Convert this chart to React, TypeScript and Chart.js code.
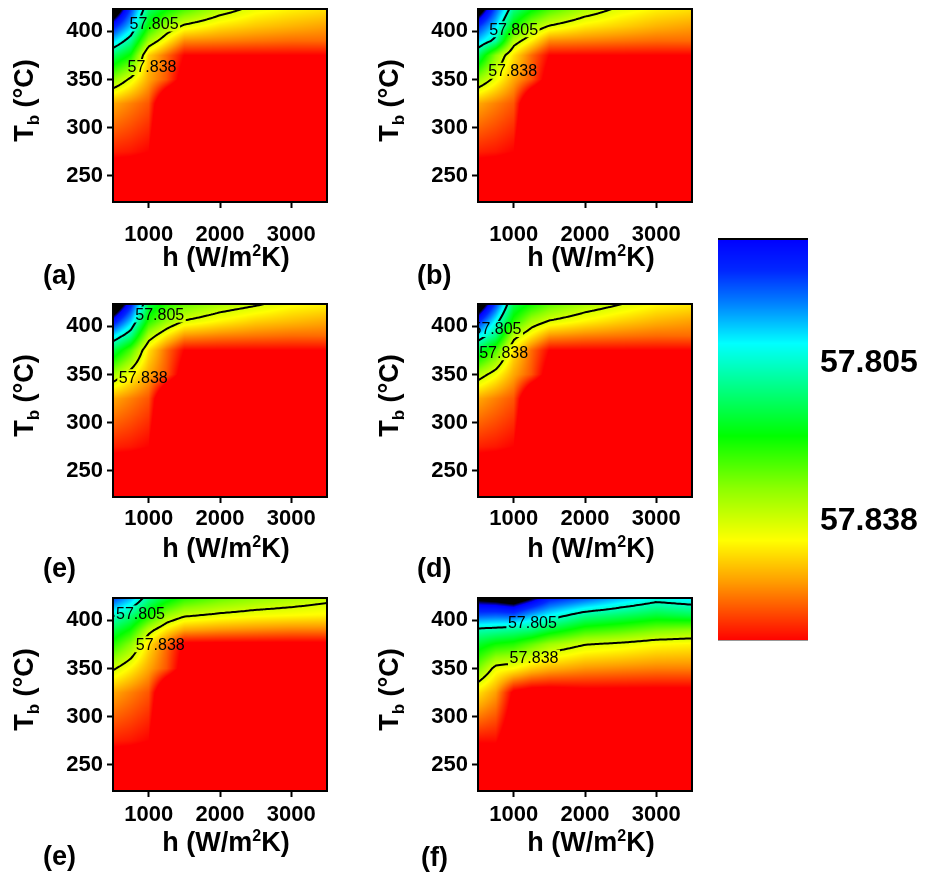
import React, { useEffect, useRef } from "react";
import { Chart, registerables } from "chart.js";

Chart.register(...registerables);

const FONT = '"Liberation Sans", Arial, Helvetica, sans-serif';

// grid nodes of the computed field
const H_NODES = [500, 750, 1000, 1250, 1500, 2000, 2500, 3000, 3500];
const T_NODES = [223, 275, 325, 350, 375, 390, 405, 423];
const H_RANGE = [500, 3500];
const T_RANGE = [223, 423];
const X_TICKS = [1000, 2000, 3000];
const Y_TICKS = [250, 300, 350, 400];
const CONTOUR_LEVELS = [57.805, 57.838];
const COLOR_RANGE = [57.779, 57.863];

// rows: T_NODES ascending (223 ... 423), columns: H_NODES
const FIELD_A = [
  [57.8798, 57.8798, 57.8798, 57.8798, 57.8798, 57.8798, 57.8798, 57.8798, 57.8798],
  [57.8605, 57.8613, 57.863, 57.8798, 57.8798, 57.8798, 57.8798, 57.8798, 57.8798],
  [57.8496, 57.8529, 57.8563, 57.8756, 57.8798, 57.8798, 57.8798, 57.8798, 57.8798],
  [57.8311, 57.8395, 57.8496, 57.8563, 57.8672, 57.8756, 57.8756, 57.8756, 57.8756],
  [57.8126, 57.821, 57.8462, 57.8546, 57.863, 57.863, 57.863, 57.863, 57.863],
  [57.7975, 57.8092, 57.8328, 57.8428, 57.8521, 57.8529, 57.8538, 57.8546, 57.8546],
  [57.7832, 57.7975, 57.821, 57.8328, 57.8395, 57.8445, 57.847, 57.8487, 57.8504],
  [57.7622, 57.7874, 57.8118, 57.8193, 57.8252, 57.8344, 57.8403, 57.8428, 57.8445],
];
const FIELD_B = [
  [57.8798, 57.8798, 57.8798, 57.8798, 57.8798, 57.8798, 57.8798, 57.8798, 57.8798],
  [57.8605, 57.8613, 57.863, 57.8798, 57.8798, 57.8798, 57.8798, 57.8798, 57.8798],
  [57.8496, 57.8529, 57.8563, 57.8756, 57.8798, 57.8798, 57.8798, 57.8798, 57.8798],
  [57.8319, 57.8403, 57.8496, 57.8563, 57.8672, 57.8756, 57.8756, 57.8756, 57.8756],
  [57.8126, 57.8311, 57.8445, 57.8546, 57.863, 57.863, 57.863, 57.863, 57.863],
  [57.7975, 57.8076, 57.8344, 57.8428, 57.8521, 57.8529, 57.8538, 57.8546, 57.8546],
  [57.7857, 57.7992, 57.821, 57.8328, 57.8386, 57.8437, 57.8462, 57.8487, 57.8504],
  [57.7664, 57.7891, 57.8101, 57.8185, 57.8252, 57.8336, 57.8395, 57.8428, 57.8445],
];
const FIELD_C = [
  [57.8798, 57.8798, 57.8798, 57.8798, 57.8798, 57.8798, 57.8798, 57.8798, 57.8798],
  [57.8605, 57.8613, 57.863, 57.8798, 57.8798, 57.8798, 57.8798, 57.8798, 57.8798],
  [57.8496, 57.8529, 57.8563, 57.8756, 57.8798, 57.8798, 57.8798, 57.8798, 57.8798],
  [57.8328, 57.8412, 57.8496, 57.8563, 57.8672, 57.8756, 57.8756, 57.8756, 57.8756],
  [57.8143, 57.826, 57.8445, 57.8546, 57.863, 57.863, 57.863, 57.863, 57.863],
  [57.7992, 57.8101, 57.8344, 57.8437, 57.8512, 57.8529, 57.8538, 57.8546, 57.8546],
  [57.7815, 57.7975, 57.8227, 57.8319, 57.8386, 57.8428, 57.8462, 57.8479, 57.8496],
  [57.7605, 57.7832, 57.8143, 57.8227, 57.8277, 57.8336, 57.837, 57.8412, 57.8428],
];
const FIELD_D = [
  [57.8798, 57.8798, 57.8798, 57.8798, 57.8798, 57.8798, 57.8798, 57.8798, 57.8798],
  [57.8605, 57.8613, 57.863, 57.8798, 57.8798, 57.8798, 57.8798, 57.8798, 57.8798],
  [57.8496, 57.8529, 57.8563, 57.8756, 57.8798, 57.8798, 57.8798, 57.8798, 57.8798],
  [57.8344, 57.8412, 57.8496, 57.8563, 57.8672, 57.8756, 57.8756, 57.8756, 57.8756],
  [57.8143, 57.826, 57.8445, 57.8546, 57.863, 57.863, 57.863, 57.863, 57.863],
  [57.8, 57.8109, 57.8353, 57.8437, 57.8512, 57.8529, 57.8538, 57.8546, 57.8546],
  [57.784, 57.8017, 57.8227, 57.8336, 57.8386, 57.8428, 57.8462, 57.8487, 57.8504],
  [57.7639, 57.7874, 57.8143, 57.821, 57.8269, 57.8336, 57.8378, 57.842, 57.8437],
];
const FIELD_E = [
  [57.8798, 57.8798, 57.8798, 57.8798, 57.8798, 57.8798, 57.8798, 57.8798, 57.8798],
  [57.8605, 57.8613, 57.863, 57.8798, 57.8798, 57.8798, 57.8798, 57.8798, 57.8798],
  [57.8496, 57.8529, 57.8563, 57.8756, 57.8798, 57.8798, 57.8798, 57.8798, 57.8798],
  [57.837, 57.8428, 57.8496, 57.8563, 57.8672, 57.8756, 57.8756, 57.8756, 57.8756],
  [57.8227, 57.8311, 57.8445, 57.8546, 57.8647, 57.8647, 57.8647, 57.8647, 57.8647],
  [57.8143, 57.821, 57.8353, 57.8437, 57.8496, 57.8512, 57.8521, 57.8529, 57.8529],
  [57.8042, 57.8109, 57.821, 57.8319, 57.837, 57.8395, 57.8412, 57.842, 57.8428],
  [57.7874, 57.7958, 57.8092, 57.8168, 57.8227, 57.8277, 57.8311, 57.8336, 57.8361],
];
const FIELD_F = [
  [57.8798, 57.8798, 57.8798, 57.8798, 57.8798, 57.8798, 57.8798, 57.8798, 57.8798],
  [57.8622, 57.8622, 57.8714, 57.8756, 57.8756, 57.8756, 57.8756, 57.8756, 57.8756],
  [57.8445, 57.8504, 57.8647, 57.8672, 57.8672, 57.8655, 57.8655, 57.8655, 57.8655],
  [57.8294, 57.8403, 57.842, 57.8462, 57.8487, 57.8512, 57.8521, 57.8529, 57.8529],
  [57.8168, 57.821, 57.8227, 57.8277, 57.8328, 57.8378, 57.8395, 57.842, 57.8428],
  [57.8067, 57.8076, 57.8092, 57.8109, 57.816, 57.8235, 57.826, 57.8294, 57.8311],
  [57.7891, 57.7899, 57.7891, 57.7958, 57.8008, 57.8092, 57.8126, 57.816, 57.8143],
  [57.7723, 57.7706, 57.7672, 57.774, 57.7832, 57.7891, 57.7958, 57.8017, 57.7992],
];

// contour label anchors (h, T)
const LABELS_A = [{ level: 57.805, h: 1076, T: 408 }, { level: 57.838, h: 1047, T: 363 }];
const LABELS_B = [{ level: 57.805, h: 999, T: 402 }, { level: 57.838, h: 985, T: 359 }];
const LABELS_C = [{ level: 57.805, h: 1156, T: 412 }, { level: 57.838, h: 924, T: 347 }];
const LABELS_D = [{ level: 57.805, h: 767, T: 397 }, { level: 57.838, h: 860, T: 373 }];
const LABELS_E = [{ level: 57.805, h: 885, T: 407 }, { level: 57.838, h: 1162, T: 375 }];
const LABELS_F = [{ level: 57.805, h: 1262, T: 398 }, { level: 57.838, h: 1285, T: 361 }];

const PANEL_LETTERS = ["(a)", "(b)", "(e)", "(d)", "(e)", "(f)"];

const PANELS = [
  { letter: PANEL_LETTERS[0], field: FIELD_A, labels: LABELS_A, left: 0, top: 0, lx: 43, ly: 284, tickPad: 14, titleDy: 64 },
  { letter: PANEL_LETTERS[1], field: FIELD_B, labels: LABELS_B, left: 365, top: 0, lx: 52, ly: 284, tickPad: 14, titleDy: 64 },
  { letter: PANEL_LETTERS[2], field: FIELD_C, labels: LABELS_C, left: 0, top: 295, lx: 43, ly: 282, tickPad: 3, titleDy: 60 },
  { letter: PANEL_LETTERS[3], field: FIELD_D, labels: LABELS_D, left: 365, top: 295, lx: 52, ly: 282, tickPad: 3, titleDy: 60 },
  { letter: PANEL_LETTERS[4], field: FIELD_E, labels: LABELS_E, left: 0, top: 589, lx: 43, ly: 276, tickPad: 5, titleDy: 60 },
  { letter: PANEL_LETTERS[5], field: FIELD_F, labels: LABELS_F, left: 365, top: 589, lx: 56, ly: 277, tickPad: 5, titleDy: 60 },
];

// jet-like colour map (position 0 = low value / top of colour bar)
const CMAP = [
  [0.0, 0, 0, 255],
  [0.08, 0, 40, 255],
  [0.16, 0, 128, 255],
  [0.26, 0, 255, 255],
  [0.49, 0, 255, 0],
  [0.62, 140, 255, 0],
  [0.75, 255, 255, 0],
  [0.85, 255, 160, 0],
  [1.0, 255, 0, 0],
];

function colorFor(v: number): number[] {
  const t = (v - COLOR_RANGE[0]) / (COLOR_RANGE[1] - COLOR_RANGE[0]);
  if (t < -0.05) return [0, 0, 0];
  if (t < 0) {
    const f = (t + 0.05) / 0.05;
    return [0, 0, Math.round(255 * f)];
  }
  if (t >= 1) return [255, 0, 0];
  for (let k = 0; k < CMAP.length - 1; k++) {
    const a = CMAP[k], b = CMAP[k + 1];
    if (t >= a[0] && t <= b[0]) {
      const f = (t - a[0]) / (b[0] - a[0]);
      return [
        Math.round(a[1] + (b[1] - a[1]) * f),
        Math.round(a[2] + (b[2] - a[2]) * f),
        Math.round(a[3] + (b[3] - a[3]) * f),
      ];
    }
  }
  return [255, 0, 0];
}

function locate(nodes: number[], v: number): [number, number] {
  const n = nodes.length;
  if (v <= nodes[0]) return [0, 0];
  if (v >= nodes[n - 1]) return [n - 2, 1];
  let i = 0;
  while (i < n - 2 && v > nodes[i + 1]) i++;
  return [i, (v - nodes[i]) / (nodes[i + 1] - nodes[i])];
}

function fieldAt(field: number[][], h: number, T: number): number {
  const [i, fx] = locate(H_NODES, h);
  const [j, fy] = locate(T_NODES, T);
  const v00 = field[j][i], v10 = field[j][i + 1];
  const v01 = field[j + 1][i], v11 = field[j + 1][i + 1];
  return (v00 * (1 - fx) + v10 * fx) * (1 - fy) + (v01 * (1 - fx) + v11 * fx) * fy;
}

function drawHeat(chart: any, field: number[][]) {
  const ctx = chart.ctx;
  const { left, top, right, bottom } = chart.chartArea;
  const xs = chart.scales.x, ys = chart.scales.y;
  const w = Math.round(right - left), hh = Math.round(bottom - top);
  const off = document.createElement("canvas");
  off.width = w;
  off.height = hh;
  const octx = off.getContext("2d") as CanvasRenderingContext2D;
  const img = octx.createImageData(w, hh);
  const hv: number[] = [];
  for (let px = 0; px < w; px++) hv.push(xs.getValueForPixel(left + px + 0.5));
  for (let py = 0; py < hh; py++) {
    const T = ys.getValueForPixel(top + py + 0.5);
    for (let px = 0; px < w; px++) {
      const c = colorFor(fieldAt(field, hv[px], T));
      const k = (py * w + px) * 4;
      img.data[k] = c[0];
      img.data[k + 1] = c[1];
      img.data[k + 2] = c[2];
      img.data[k + 3] = 255;
    }
  }
  octx.putImageData(img, 0, 0);
  ctx.drawImage(off, left, top);
}

function drawContours(chart: any, field: number[][], labels: any[]) {
  const ctx = chart.ctx;
  const { left, top, right, bottom } = chart.chartArea;
  const xs = chart.scales.x, ys = chart.scales.y;
  const step = 2;
  const nx = Math.ceil((right - left) / step), ny = Math.ceil((bottom - top) / step);
  const px: number[] = [], py: number[] = [];
  for (let i = 0; i <= nx; i++) px.push(Math.min(left + i * step, right));
  for (let j = 0; j <= ny; j++) py.push(Math.min(top + j * step, bottom));
  const vals: number[][] = [];
  for (let j = 0; j <= ny; j++) {
    const T = ys.getValueForPixel(py[j]);
    const row: number[] = [];
    for (let i = 0; i <= nx; i++) row.push(fieldAt(field, xs.getValueForPixel(px[i]), T));
    vals.push(row);
  }

  ctx.save();
  ctx.font = `16px ${FONT}`;
  ctx.beginPath();
  ctx.rect(left, top, right - left, bottom - top);
  for (const lab of labels) {
    const x = xs.getPixelForValue(lab.h), y = ys.getPixelForValue(lab.T);
    const tw = ctx.measureText(lab.level.toFixed(3)).width + 3;
    ctx.rect(x - tw / 2, y - 8, tw, 16);
  }
  ctx.clip("evenodd");

  ctx.strokeStyle = "#000";
  ctx.lineWidth = 2;
  ctx.lineCap = "round";
  ctx.lineJoin = "round";
  ctx.beginPath();
  for (const L of CONTOUR_LEVELS) {
    for (let j = 0; j < ny; j++) {
      for (let i = 0; i < nx; i++) {
        const a = vals[j][i], b = vals[j][i + 1], c = vals[j + 1][i + 1], d = vals[j + 1][i];
        const pts: number[][] = [];
        const edge = (v1: number, v2: number, x1: number, y1: number, x2: number, y2: number) => {
          if ((v1 < L) !== (v2 < L)) {
            const f = (L - v1) / (v2 - v1);
            pts.push([x1 + f * (x2 - x1), y1 + f * (y2 - y1)]);
          }
        };
        edge(a, b, px[i], py[j], px[i + 1], py[j]);
        edge(b, c, px[i + 1], py[j], px[i + 1], py[j + 1]);
        edge(c, d, px[i + 1], py[j + 1], px[i], py[j + 1]);
        edge(d, a, px[i], py[j + 1], px[i], py[j]);
        if (pts.length === 2) {
          ctx.moveTo(pts[0][0], pts[0][1]);
          ctx.lineTo(pts[1][0], pts[1][1]);
        } else if (pts.length === 4) {
          ctx.moveTo(pts[0][0], pts[0][1]);
          ctx.lineTo(pts[1][0], pts[1][1]);
          ctx.moveTo(pts[2][0], pts[2][1]);
          ctx.lineTo(pts[3][0], pts[3][1]);
        }
      }
    }
  }
  ctx.stroke();
  ctx.restore();

  // labels
  ctx.save();
  ctx.beginPath();
  ctx.rect(left, top, right - left, bottom - top);
  ctx.clip();
  ctx.font = `16px ${FONT}`;
  ctx.fillStyle = "#000";
  ctx.textAlign = "center";
  ctx.textBaseline = "middle";
  for (const lab of labels) {
    ctx.fillText(lab.level.toFixed(3), xs.getPixelForValue(lab.h), ys.getPixelForValue(lab.T) + 1);
  }
  ctx.restore();

  // frame
  ctx.save();
  ctx.strokeStyle = "#000";
  ctx.lineWidth = 2;
  ctx.strokeRect(left, top, right - left, bottom - top);
  ctx.restore();
}

function drawTitles(chart: any, cfg: any) {
  const ctx = chart.ctx;
  const { left, top, right, bottom } = chart.chartArea;
  const big = `bold 27px ${FONT}`;
  ctx.save();
  ctx.fillStyle = "#000";
  ctx.textAlign = "left";
  ctx.textBaseline = "alphabetic";

  // x title: h (W/m²K)
  ctx.font = big;
  const w1 = ctx.measureText("h (W/m").width;
  const w3 = ctx.measureText("K)").width;
  ctx.font = `bold 16px ${FONT}`;
  const w2 = ctx.measureText("2").width;
  let x = (left + right) / 2 + 6 - (w1 + w2 + w3) / 2;
  const by = bottom + cfg.titleDy;
  ctx.font = big;
  ctx.fillText("h (W/m", x, by);
  x += w1;
  ctx.font = `bold 16px ${FONT}`;
  ctx.fillText("2", x, by - 10);
  x += w2;
  ctx.font = big;
  ctx.fillText("K)", x, by);

  // y title: T_b (°C)
  ctx.save();
  ctx.translate(left - 80, (top + bottom) / 2 - 5);
  ctx.rotate(-Math.PI / 2);
  ctx.font = big;
  const wT = ctx.measureText("T").width;
  const wR = ctx.measureText(" (°C)").width;
  ctx.font = `bold 17px ${FONT}`;
  const wb = ctx.measureText("b").width;
  let yx = -(wT + wb + wR) / 2;
  ctx.font = big;
  ctx.fillText("T", yx, 0);
  yx += wT;
  ctx.font = `bold 17px ${FONT}`;
  ctx.fillText("b", yx, 6);
  yx += wb;
  ctx.font = big;
  ctx.fillText(" (°C)", yx, 0);
  ctx.restore();

  // panel letter
  ctx.font = big;
  ctx.fillText(cfg.letter, cfg.lx, cfg.ly);
  ctx.restore();
}

const CW = 345, CH = 292;

function Panel({ cfg }: { cfg: any }) {
  const ref = useRef<HTMLCanvasElement>(null);
  useEffect(() => {
    const canvas = ref.current as HTMLCanvasElement;
    const tickFont = { family: FONT, size: 22, weight: "bold" as const };
    const nodes: any[] = [];
    T_NODES.forEach((T, j) => H_NODES.forEach((h, i) => nodes.push({ x: h, y: T, v: cfg.field[j][i] })));
    const chart = new Chart(canvas, {
      type: "scatter",
      data: { datasets: [{ data: nodes, pointRadius: 0, pointHoverRadius: 0, showLine: false }] },
      options: {
        animation: false,
        responsive: false,
        maintainAspectRatio: false,
        events: [],
        layout: { padding: { left: 0, top: 9, right: CW - 327, bottom: 0 } },
        plugins: { legend: { display: false }, tooltip: { enabled: false } },
        scales: {
          x: {
            type: "linear",
            min: H_RANGE[0],
            max: H_RANGE[1],
            afterBuildTicks: (s: any) => {
              s.ticks = X_TICKS.map((v) => ({ value: v }));
            },
            afterFit: (s: any) => {
              s.height = CH - 202;
              s.paddingLeft = 0;
              s.paddingRight = 0;
            },
            ticks: { font: tickFont, color: "#000", padding: cfg.tickPad, autoSkip: false, maxRotation: 0, callback: (v: any) => String(v) },
            grid: { display: true, drawOnChartArea: false, drawTicks: true, tickLength: 6, tickWidth: 2, tickColor: "#000" },
            border: { display: false },
          },
          y: {
            type: "linear",
            min: T_RANGE[0],
            max: T_RANGE[1],
            afterBuildTicks: (s: any) => {
              s.ticks = Y_TICKS.map((v) => ({ value: v }));
            },
            afterFit: (s: any) => {
              s.width = 113;
              s.paddingTop = 0;
              s.paddingBottom = 0;
            },
            ticks: { font: tickFont, color: "#000", padding: 4, autoSkip: false, callback: (v: any) => String(v) },
            grid: { display: true, drawOnChartArea: false, drawTicks: true, tickLength: 6, tickWidth: 2, tickColor: "#000" },
            border: { display: false },
          },
        },
      } as any,
      plugins: [
        {
          id: "heatContour",
          beforeDatasetsDraw: (c: any) => drawHeat(c, cfg.field),
          afterDatasetsDraw: (c: any) => drawContours(c, cfg.field, cfg.labels),
          afterDraw: (c: any) => drawTitles(c, cfg),
        },
      ],
    });
    return () => chart.destroy();
  }, []);
  return (
    <canvas
      ref={ref}
      width={CW}
      height={CH}
      style={{ position: "absolute", left: cfg.left, top: cfg.top, width: CW, height: CH }}
    />
  );
}

function ColorBar() {
  const ref = useRef<HTMLCanvasElement>(null);
  useEffect(() => {
    const canvas = ref.current as HTMLCanvasElement;
    const chart = new Chart(canvas, {
      type: "scatter",
      data: { datasets: [{ data: CONTOUR_LEVELS.map((v) => ({ x: 0.5, y: v })), pointRadius: 0, pointHoverRadius: 0 }] },
      options: {
        animation: false,
        responsive: false,
        maintainAspectRatio: false,
        events: [],
        layout: { padding: { left: 18, top: 39, right: 0, bottom: 39 } },
        plugins: { legend: { display: false }, tooltip: { enabled: false } },
        scales: {
          x: { type: "linear", display: false, min: 0, max: 1 },
          y: {
            type: "linear",
            position: "right",
            reverse: true,
            min: COLOR_RANGE[0],
            max: COLOR_RANGE[1],
            afterBuildTicks: (s: any) => {
              s.ticks = CONTOUR_LEVELS.map((v) => ({ value: v }));
            },
            afterFit: (s: any) => {
              s.width = 118;
              s.paddingTop = 0;
              s.paddingBottom = 0;
            },
            ticks: { font: { family: FONT, size: 32, weight: "bold" }, color: "#000", padding: 12, callback: (v: any) => Number(v).toFixed(3) },
            grid: { display: false, drawTicks: false },
            border: { display: false },
          },
        },
      } as any,
      plugins: [
        {
          id: "colorbar",
          beforeDatasetsDraw: (c: any) => {
            const ctx = c.ctx;
            const { left, top, right, bottom } = c.chartArea;
            const ys = c.scales.y;
            for (let y = Math.floor(top); y < Math.ceil(bottom); y++) {
              const col = colorFor(ys.getValueForPixel(y + 0.5));
              ctx.fillStyle = `rgb(${col[0]},${col[1]},${col[2]})`;
              ctx.fillRect(left, y, right - left, 1);
            }
            ctx.fillStyle = "#000";
            ctx.fillRect(left, top - 1, right - left, 2);
            ctx.fillStyle = "#999";
            ctx.fillRect(left, bottom - 1, right - left, 1);
          },
        },
      ],
    });
    return () => chart.destroy();
  }, []);
  return (
    <canvas
      ref={ref}
      width={226}
      height={480}
      style={{ position: "absolute", left: 700, top: 200, width: 226, height: 480 }}
    />
  );
}

export default function App() {
  return (
    <div style={{ position: "absolute", left: 0, top: 0, width: 926, height: 882, background: "#fff", overflow: "hidden" }}>
      {PANELS.map((p, i) => (
        <Panel key={i} cfg={p} />
      ))}
      <ColorBar />
    </div>
  );
}
